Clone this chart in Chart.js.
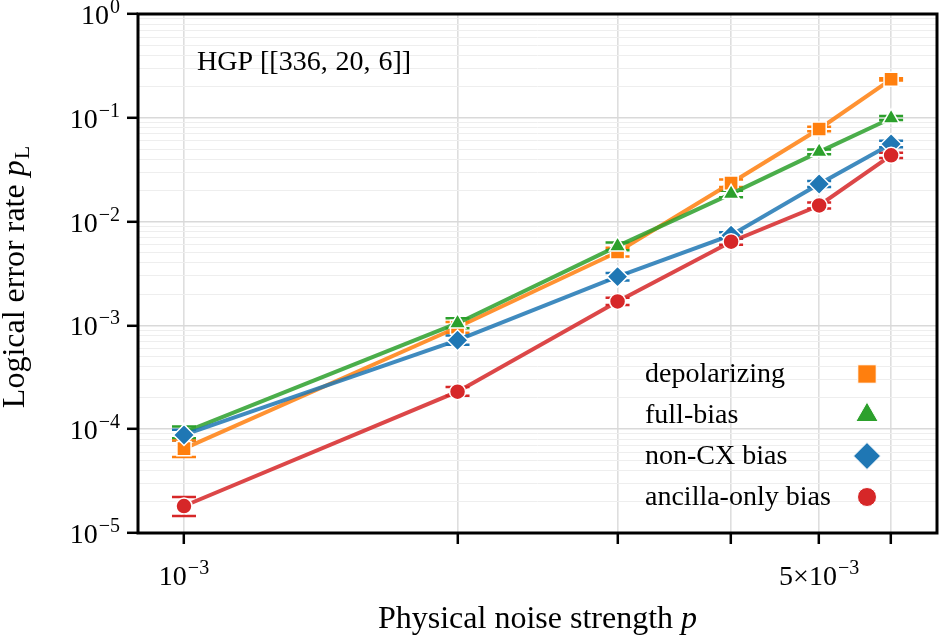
<!DOCTYPE html>
<html>
<head>
<meta charset="utf-8">
<script src="https://cdn.jsdelivr.net/npm/chart.js@4.4.1/dist/chart.umd.min.js"></script>
<style>
	html, body { margin: 0; padding: 0; background: #fff; }
	#wrap { width: 940px; height: 638px; position: relative; }
</style>
</head>
<body>
<div id="wrap"><canvas id="graficoRuido"></canvas></div>
<script>
// physical noise strength p (x axis)
const noiseP = [0.001, 0.002, 0.003, 0.004, 0.005, 0.006];
const seriesNames = ['depolarizing', 'full-bias', 'non-CX bias', 'ancilla-only bias'];

// logical error rates, with lower / upper error bar ends
const depolarizing = [6.5e-5, 9.6e-4, 5.1e-3, 2.35e-2, 7.8e-2, 0.235];
const depolarizingLow = [5.4e-5, 8.5e-4, 4.6e-3, 2.15e-2, 7.4e-2, 0.229];
const depolarizingHigh = [7.8e-5, 1.08e-3, 5.6e-3, 2.55e-2, 8.2e-2, 0.241];

const fullBias = [9.3e-5, 1.05e-3, 5.8e-3, 1.85e-2, 4.7e-2, 0.099];
const fullBiasLow = [8.2e-5, 9.4e-4, 5.3e-3, 1.72e-2, 4.45e-2, 0.095];
const fullBiasHigh = [1.06e-4, 1.17e-3, 6.3e-3, 1.98e-2, 4.95e-2, 0.104];

const nonCX = [8.8e-5, 7.2e-4, 2.95e-3, 7.4e-3, 2.3e-2, 5.6e-2];
const nonCXLow = [7.8e-5, 6.5e-4, 2.7e-3, 6.9e-3, 2.15e-2, 5.2e-2];
const nonCXHigh = [9.9e-5, 8.0e-4, 3.2e-3, 7.9e-3, 2.46e-2, 6.0e-2];

const ancillaOnly = [1.82e-5, 2.3e-4, 1.7e-3, 6.4e-3, 1.43e-2, 4.35e-2];
const ancillaOnlyLow = [1.46e-5, 2.1e-4, 1.57e-3, 6.0e-3, 1.34e-2, 4.1e-2];
const ancillaOnlyHigh = [2.22e-5, 2.55e-4, 1.85e-3, 6.85e-3, 1.53e-2, 4.6e-2];

// y axis: decades with minor grid lines at 2..9
const yDecades = [-5, -4, -3, -2, -1, 0];
const xLabelled = [0.001, 0.005];

const cores = ['#ff7f0e', '#2ca02c', '#1f77b4', '#d62728'];
const linhas = ['rgba(255,127,14,0.85)', 'rgba(44,160,44,0.85)', 'rgba(31,119,180,0.85)', 'rgba(214,39,40,0.85)'];
const estilos = ['rect', 'triangle', 'rectRot', 'circle'];
const raios = [10, 9.5, 10.5, 8];
const raiosLegenda = [13, 13, 13.5, 9.5];

const fonte = '"Liberation Serif", "DejaVu Serif", serif';

const valores = [depolarizing, fullBias, nonCX, ancillaOnly];
const baixos = [depolarizingLow, fullBiasLow, nonCXLow, ancillaOnlyLow];
const altos = [depolarizingHigh, fullBiasHigh, nonCXHigh, ancillaOnlyHigh];

function isDecade(v) {
	const l = Math.log10(v);
	return Math.abs(l - Math.round(l)) < 1e-6;
}

// draws "10^exp" (optionally with a prefix such as "5×") ; align 'right' or 'center'
function drawPow(ctx, prefix, exp, x, y, align) {
	const big = '28px ' + fonte;
	const small = '20px ' + fonte;
	const expTxt = exp < 0 ? '\u2212' + Math.abs(exp) : String(exp);
	ctx.font = big;
	const wMain = ctx.measureText(prefix + '10').width;
	ctx.font = small;
	const wExp = ctx.measureText(expTxt).width;
	const total = wMain + wExp + 1;
	let x0 = x;
	if (align === 'right') x0 = x - total;
	if (align === 'center') x0 = x - total / 2;
	ctx.textAlign = 'left';
	ctx.textBaseline = 'alphabetic';
	ctx.font = big;
	ctx.fillText(prefix + '10', x0, y);
	ctx.font = small;
	ctx.fillText(expTxt, x0 + wMain + 1, y - 11);
}

const datasets = seriesNames.map((nome, i) => ({
	label: nome,
	data: noiseP.map((p, j) => ({ x: p, y: valores[i][j] })),
	borderColor: linhas[i],
	backgroundColor: cores[i],
	borderWidth: 4,
	pointStyle: estilos[i],
	pointRadius: raios[i],
	pointHoverRadius: raios[i],
	pointBackgroundColor: cores[i],
	pointBorderColor: '#ffffff',
	pointBorderWidth: 1.5,
	tension: 0,
	order: seriesNames.length - 1 - i,
}));

const pluginFundo = {
	id: 'fundo',
	beforeDraw(chart) {
		const ctx = chart.ctx;
		ctx.save();
		ctx.fillStyle = '#ffffff';
		ctx.fillRect(0, 0, chart.width, chart.height);
		ctx.restore();
	},
};

const pluginErro = {
	id: 'barrasErro',
	beforeDatasetsDraw(chart) {
		const ctx = chart.ctx;
		const sx = chart.scales.x;
		const sy = chart.scales.y;
		ctx.save();
		ctx.lineWidth = 2.5;
		for (let i = valores.length - 1; i >= 0; i--) {
			ctx.strokeStyle = cores[i];
			noiseP.forEach((p, j) => {
				const px = sx.getPixelForValue(p);
				const y1 = sy.getPixelForValue(baixos[i][j]);
				const y2 = sy.getPixelForValue(altos[i][j]);
				ctx.beginPath();
				ctx.moveTo(px, y1);
				ctx.lineTo(px, y2);
				ctx.moveTo(px - 12, y1);
				ctx.lineTo(px + 12, y1);
				ctx.moveTo(px - 12, y2);
				ctx.lineTo(px + 12, y2);
				ctx.stroke();
			});
		}
		ctx.restore();
	},
};

const pluginTextos = {
	id: 'textos',
	afterDraw(chart) {
		const ctx = chart.ctx;
		const area = chart.chartArea;
		const sx = chart.scales.x;
		const sy = chart.scales.y;
		ctx.save();

		// frame
		ctx.strokeStyle = '#000';
		ctx.lineWidth = 3;
		ctx.strokeRect(area.left, area.top, area.right - area.left, area.bottom - area.top);

		ctx.fillStyle = '#000';
		// y tick labels
		yDecades.forEach((e) => {
			const py = sy.getPixelForValue(Math.pow(10, e));
			drawPow(ctx, '', e, area.left - 18, py + 10, 'right');
		});
		// x tick labels
		xLabelled.forEach((v) => {
			const px = sx.getPixelForValue(v);
			const m = Math.round(v / 0.001);
			drawPow(ctx, m === 1 ? '' : m + '\u00d7', -3, px, area.bottom + 52, 'center');
		});

		// axis titles
		ctx.textBaseline = 'alphabetic';
		ctx.textAlign = 'left';
		ctx.font = '32px ' + fonte;
		const tx = 'Physical noise strength ';
		const w1 = ctx.measureText(tx).width;
		ctx.font = 'italic 32px ' + fonte;
		const w2 = ctx.measureText('p').width;
		const cx = (area.left + area.right) / 2;
		ctx.font = '32px ' + fonte;
		ctx.fillText(tx, cx - (w1 + w2) / 2, 628);
		ctx.font = 'italic 32px ' + fonte;
		ctx.fillText('p', cx - (w1 + w2) / 2 + w1, 628);

		ctx.save();
		ctx.translate(24, (area.top + area.bottom) / 2 + 4);
		ctx.rotate(-Math.PI / 2);
		ctx.font = '32px ' + fonte;
		const ty = 'Logical error rate ';
		const a1 = ctx.measureText(ty).width;
		ctx.font = 'italic 32px ' + fonte;
		const a2 = ctx.measureText('p').width;
		ctx.font = '22px ' + fonte;
		const a3 = ctx.measureText('L').width;
		const s = -(a1 + a2 + a3) / 2;
		ctx.font = '32px ' + fonte;
		ctx.fillText(ty, s, 0);
		ctx.font = 'italic 32px ' + fonte;
		ctx.fillText('p', s + a1, 0);
		ctx.font = '22px ' + fonte;
		ctx.fillText('L', s + a1 + a2 + 1, 5);
		ctx.restore();

		// code label
		ctx.font = '28px ' + fonte;
		ctx.fillText('HGP [[336,\u2009\u200a20,\u2009\u200a6]]', area.left + 59, area.top + 56);

		// legend: text left, marker right
		const helpers = Chart.helpers;
		seriesNames.forEach((nome, i) => {
			const yRow = area.bottom - 159 + i * 41;
			ctx.fillStyle = '#000';
			ctx.font = '28px ' + fonte;
			ctx.textBaseline = 'alphabetic';
			ctx.fillText(nome, area.left + 507, yRow + 8);
			ctx.fillStyle = cores[i];
			ctx.strokeStyle = '#ffffff';
			ctx.lineWidth = 1;
			helpers.drawPoint(ctx, { pointStyle: estilos[i], radius: raiosLegenda[i], rotation: 0, borderWidth: 1 }, area.left + 729, yRow);
		});
		ctx.restore();
	},
};

document.addEventListener('DOMContentLoaded', () => {
	new Chart(document.getElementById('graficoRuido'), {
		type: 'line',
		data: { datasets: datasets },
		options: {
			responsive: true,
			maintainAspectRatio: false,
			animation: false,
			layout: { autoPadding: false, padding: { top: 14, right: 3, left: 0, bottom: 0 } },
			plugins: {
				legend: { display: false },
				tooltip: { enabled: false },
			},
			scales: {
				x: {
					type: 'logarithmic',
					min: 8.9e-4,
					max: 6.74e-3,
					afterBuildTicks(scale) {
						scale.ticks = noiseP.map((v) => ({ value: v, major: true }));
					},
					afterFit(scale) {
						scale.height = 105;
					},
					ticks: { display: false },
					border: { display: false },
					grid: {
						color: '#dedede',
						lineWidth: 1.6,
						drawTicks: true,
						tickLength: 11,
						tickWidth: 2.5,
						tickColor: '#000',
					},
				},
				y: {
					type: 'logarithmic',
					min: 1e-5,
					max: 1,
					afterBuildTicks(scale) {
						const t = [];
						yDecades.forEach((e) => {
							for (let m = 1; m <= 9; m++) {
								const v = m * Math.pow(10, e);
								if (v <= 1.0000001) t.push({ value: v, major: m === 1 });
							}
						});
						scale.ticks = t;
					},
					afterFit(scale) {
						scale.width = 138;
					},
					ticks: { display: false },
					border: { display: false },
					grid: {
						color: (c) => (c.tick && isDecade(c.tick.value) ? '#d9d9d9' : '#eeeeee'),
						lineWidth: (c) => (c.tick && isDecade(c.tick.value) ? 1.6 : 1),
						drawTicks: true,
						tickLength: 11,
						tickWidth: 2.5,
						tickColor: (c) => (c.tick && isDecade(c.tick.value) ? '#000' : 'rgba(0,0,0,0)'),
					},
				},
			},
		},
		plugins: [pluginFundo, pluginErro, pluginTextos],
	});
});
</script>
</body>
</html>
